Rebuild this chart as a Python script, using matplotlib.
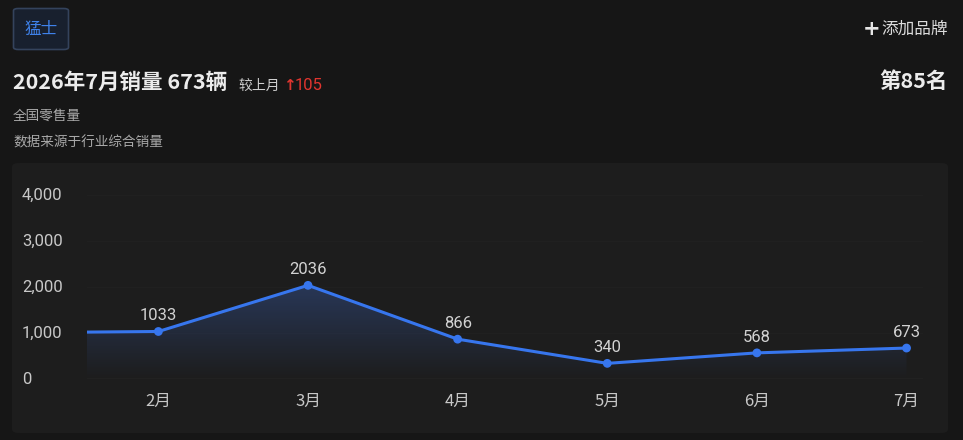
import matplotlib
matplotlib.use("Agg")
import matplotlib.pyplot as plt
import numpy as np
import matplotlib.transforms as mtransforms
from matplotlib.patches import FancyBboxPatch, Polygon
from matplotlib.colors import LinearSegmentedColormap

plt.rcParams['font.family'] = ['Noto Sans CJK SC', 'DejaVu Sans']

months = ["1月", "2月", "3月", "4月", "5月", "6月", "7月"]
sales = [1005, 1033, 2036, 866, 340, 568, 673]
shown_labels = [False, True, True, True, True, True, True]
yticks = [0, 1000, 2000, 3000, 4000]
ytick_labels = ["0", "1,000", "2,000", "3,000", "4,000"]

BG = "#161616"
PANEL = "#1d1d1d"
LINE = "#3776ee"
NUMFONT = ["Roboto", "Noto Sans CJK SC", "DejaVu Sans"]

fig = plt.figure(figsize=(9.63, 4.4), dpi=100, facecolor=BG)

W, H = 963, 440
def fx(px): return px / W
def fy(py): return 1 - py / H

# panel
panel = FancyBboxPatch((fx(12), fy(433)), fx(948) - fx(12), fy(163) - fy(433),
                       boxstyle="round,pad=0,rounding_size=0.008",
                       transform=fig.transFigure, facecolor=PANEL, edgecolor="none", zorder=-5)
fig.patches.append(panel)

# brand button
btn = FancyBboxPatch((fx(13.5), fy(49.5)), fx(68.5) - fx(13.5), fy(8.5) - fy(49.5),
                     boxstyle="round,pad=0,rounding_size=0.005",
                     transform=fig.transFigure, facecolor="#18202e", edgecolor="#34435c",
                     linewidth=1.2, zorder=-5)
fig.patches.append(btn)
fig.text(fx(41), fy(29), "猛士", color="#3f82ea", fontsize=12, ha="center", va="center")

fig.text(fx(872), fy(29), "+", color="#e6e6e6", fontsize=15, fontweight="bold", ha="center",
         va="center", family=["DejaVu Sans"])
fig.text(fx(948), fy(29), "添加品牌", color="#dcdcdc", fontsize=12, ha="right", va="center")

# title row
fig.text(fx(13), fy(82), "2026年7月销量 673辆", color="#ececec", fontsize=15.5, fontweight="bold",
         ha="left", va="center")
fig.text(fx(238), fy(86), "较上月", color="#cfcfcf", fontsize=10, ha="left", va="center")
fig.text(fx(283), fy(86), "↑", color="#e0352f", fontsize=11, fontweight="bold", ha="left", va="center",
         family=["DejaVu Sans"])
fig.text(fx(295), fy(86), "105", color="#e0352f", fontsize=12, ha="left", va="center", family=NUMFONT)
fig.text(fx(948), fy(82), "第85名", color="#ececec", fontsize=15.5, fontweight="bold", ha="right", va="center")

fig.text(fx(13), fy(116), "全国零售量", color="#a8a8a8", fontsize=9.8, ha="left", va="center")
fig.text(fx(13), fy(142), "数据来源于行业综合销量", color="#a8a8a8", fontsize=9.8, ha="left", va="center")

# axes
left, right, top, bottom = 87, 923, 195, 379
ax = fig.add_axes([fx(left), fy(bottom), fx(right) - fx(left), fy(top) - fy(bottom)])
ax.set_zorder(2)
ax.set_facecolor("none")
x = np.arange(len(months))
ax.set_xlim(0.523, 6.11)
ax.set_ylim(0, 4000)
for s in ax.spines.values():
    s.set_visible(False)
ax.tick_params(left=False, bottom=False, labelleft=False, labelbottom=False)

for yt in yticks[1:]:
    ax.axhline(yt, color="#202020", linewidth=1, zorder=0)
ax.axhline(0, color="#363636", linewidth=1, zorder=1)

# gradient fill
xlo, xhi = ax.get_xlim()
grad = np.linspace(0, 1, 256).reshape(-1, 1)
cmap = LinearSegmentedColormap.from_list("g", [(0.22, 0.36, 0.66, 0.0), (0.22, 0.36, 0.66, 0.42)])
im = ax.imshow(grad, extent=[xlo, xhi, 0, max(sales)], origin="lower", aspect="auto",
               cmap=cmap, zorder=2, interpolation="bicubic")
verts = [(x[0], 0)] + list(zip(x, sales)) + [(x[-1], 0)]
poly = Polygon(verts, closed=True, facecolor="none", edgecolor="none")
ax.add_patch(poly)
im.set_clip_path(poly)
ax.set_xlim(0.523, 6.11)
ax.set_ylim(0, 4000)

ax.plot(x, sales, color=LINE, linewidth=2.2, zorder=3, solid_joinstyle="round")
ax.scatter(x[1:], sales[1:], s=40, color=LINE, zorder=4, edgecolors="none")

for xi, v, show in zip(x, sales, shown_labels):
    if show:
        ax.annotate(str(v), (xi, v), xytext=(0, 6), textcoords="offset points",
                    ha="center", va="bottom", color="#d2d2d2", fontsize=12, family=NUMFONT)

trans_y = mtransforms.blended_transform_factory(fig.transFigure, ax.transData)
for yt, lab in zip(yticks, ytick_labels):
    fig.text(fx(22), yt, lab, transform=trans_y, color="#c8c8c8", fontsize=12, ha="left", va="center",
             family=NUMFONT)

trans_x = mtransforms.blended_transform_factory(ax.transData, fig.transFigure)
for xi, m in zip(x[1:], months[1:]):
    ax.text(xi, fy(401), m, transform=trans_x, color="#c8c8c8", fontsize=12,
            ha="center", va="center")

fig.savefig("out.png", dpi=100, facecolor=BG)
